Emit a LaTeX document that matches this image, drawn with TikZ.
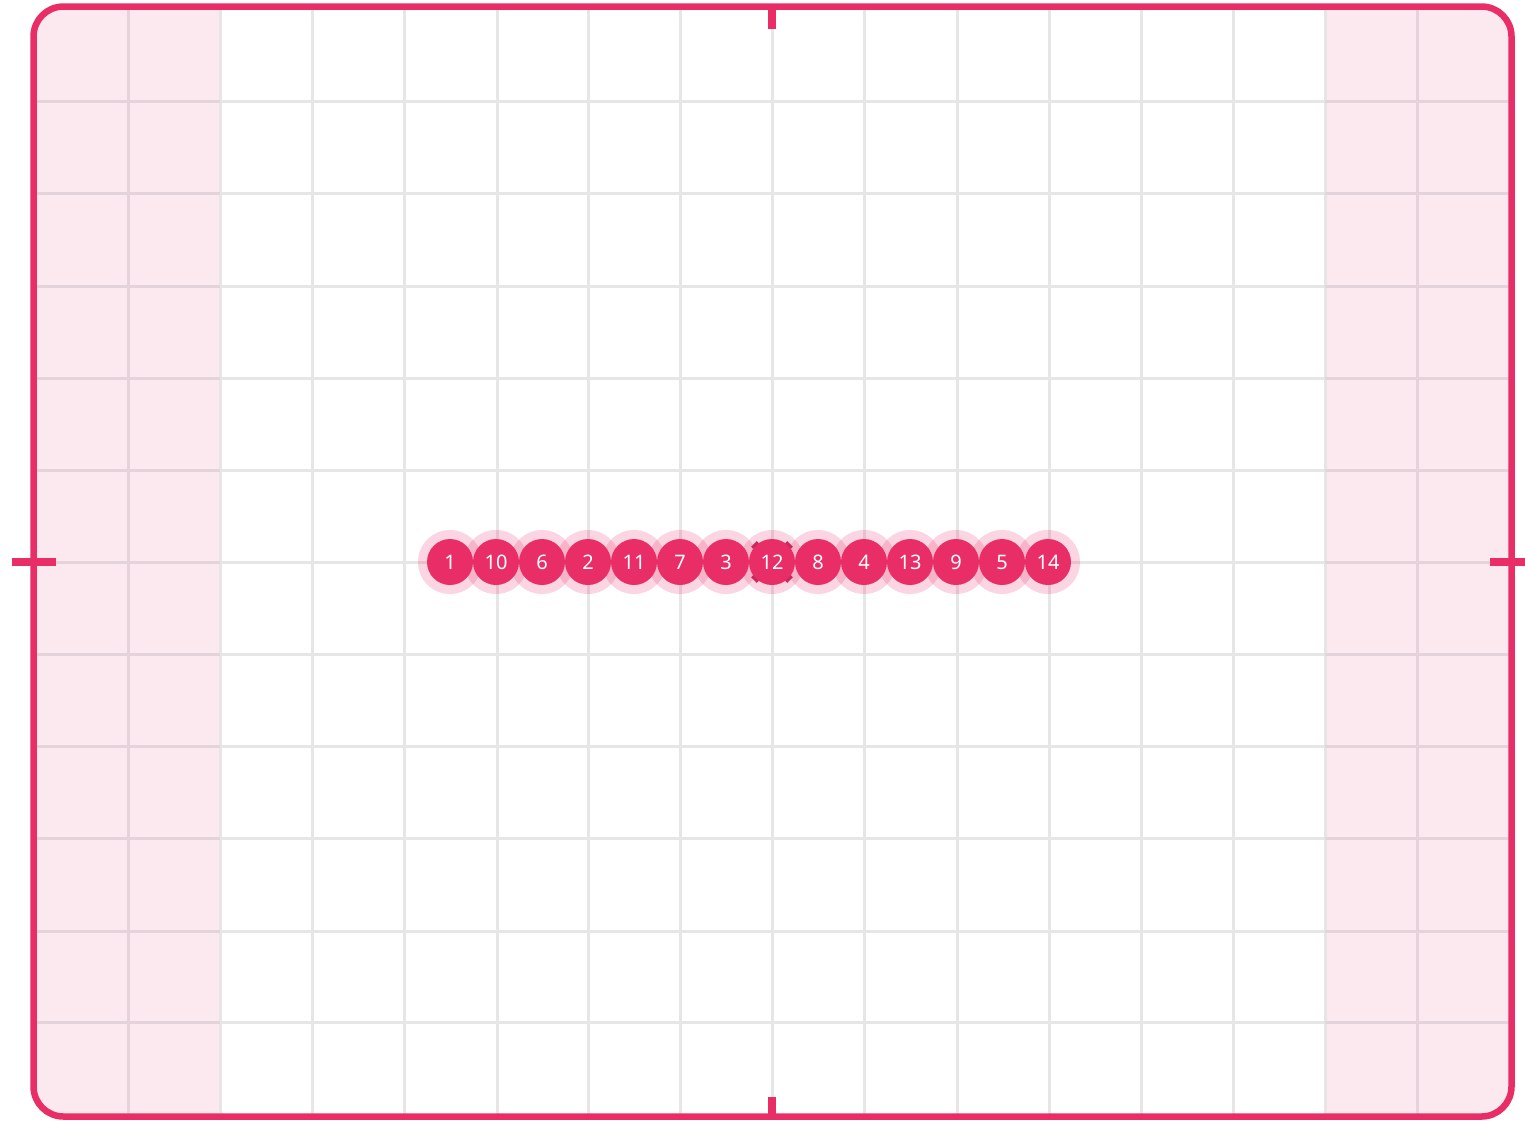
\documentclass[tikz,border=0pt]{standalone}
\usepackage{fontspec}
\setmainfont{Noto Sans}
\usetikzlibrary{calc}
\definecolor{accent}{HTML}{E92D67}
\definecolor{pinkbg}{HTML}{FCE8EF}
\definecolor{gridc}{HTML}{E6E6E6}
\definecolor{gridp}{HTML}{E4D3DA}
\tikzset{
  gridline/.style={gridc, line width=3pt},
  gridlinep/.style={gridp, line width=3pt},
  halo/.style={circle, fill=accent, fill opacity=0.2, draw=none, minimum size=64pt, inner sep=0pt},
  dot/.style={circle, fill=accent, draw=none, minimum size=46pt, inner sep=0pt, text=white, font=\fontsize{20pt}{20pt}\selectfont},
  frame/.style={accent, line width=6.5pt, rounded corners=30pt},
  tick/.style={accent, line width=8pt},
  selmark/.style={accent!88!black, line width=3pt}
}
\begin{document}
\begin{tikzpicture}[x=1pt,y=-1pt]
\useasboundingbox (0,0) rectangle (1525,1120);
\begin{scope}
  \clip[rounded corners=30pt] (33.5,6.5) rectangle (1511.5,1116.5);
  \fill[pinkbg] (33.5,6.5) rectangle (220,1116.5);
  \fill[pinkbg] (1325,6.5) rectangle (1511.5,1116.5);
  \foreach \x in {220,312,404,497,588,680,772,864,957,1049,1141,1233,1325}
    \draw[gridline] (\x,0) -- (\x,1120);
  \foreach \y in {101,193,286,378,470,562,654,746,838,931,1022} {
    \draw[gridline] (220,\y) -- (1325,\y);
    \draw[gridlinep] (0,\y) -- (220,\y);
    \draw[gridlinep] (1325,\y) -- (1525,\y);
  }
  \foreach \x in {128,1417}
    \draw[gridlinep] (\x,0) -- (\x,1120);
\end{scope}
% halos
\foreach \i/\x in {1/450,2/496,3/542,4/588,5/634,6/680,7/726,8/772,9/818,10/864,11/910,12/956,13/1002,14/1048}
  \node[halo] (h\i) at (\x,562) {};
% dots
\foreach \i/\x/\t in {1/450/1,2/496/10,3/542/6,4/588/2,5/634/11,6/680/7,7/726/3,8/772/12,9/818/8,10/864/4,11/910/13,12/956/9,13/1002/5,14/1048/14}
  \node[dot] (d\i) at (\x,562) {\t};
% selection marks on node 12
\foreach \a in {45,135,225,315}
  \draw[selmark] ($(d8.center)+(\a:24pt)+(\a+90:4pt)$) -- ($(d8.center)+(\a:24pt)+(\a-90:4pt)$);
% frame
\draw[frame] (33.5,6.5) rectangle (1511.5,1116.5);
% ticks
\coordinate (tt) at (772,6.5);
\coordinate (tb) at (772,1116.5);
\coordinate (tl) at (33.5,562);
\coordinate (tr) at (1511.5,562);
\draw[tick] (tt) -- ++(0,22);
\draw[tick] (tb) -- ++(0,-20);
\draw[tick] ([xshift=-22pt]tl) -- ++(44,0);
\draw[tick] ([xshift=-22pt]tr) -- ++(44,0);
\end{tikzpicture}
\end{document}
